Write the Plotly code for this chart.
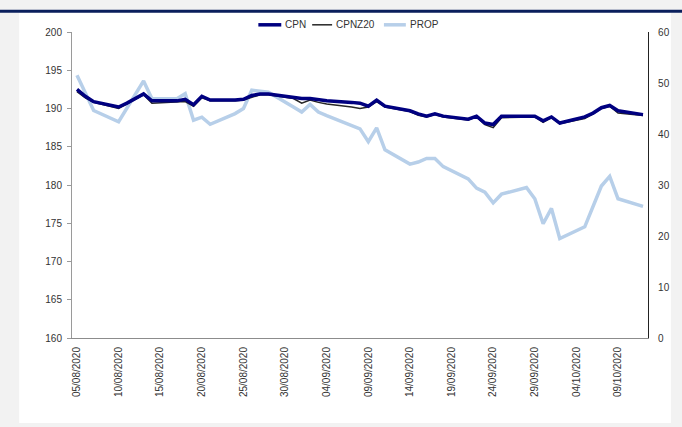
import plotly.graph_objects as go

dates = [
    "2020-08-05", "2020-08-06", "2020-08-07", "2020-08-10", "2020-08-11", "2020-08-12",
    "2020-08-13", "2020-08-14", "2020-08-17", "2020-08-18", "2020-08-19", "2020-08-20",
    "2020-08-21", "2020-08-24", "2020-08-25", "2020-08-26", "2020-08-27", "2020-08-28",
    "2020-08-31", "2020-09-01", "2020-09-02", "2020-09-03", "2020-09-04", "2020-09-07",
    "2020-09-08", "2020-09-09", "2020-09-10", "2020-09-11", "2020-09-14", "2020-09-15",
    "2020-09-16", "2020-09-17", "2020-09-18", "2020-09-21", "2020-09-22", "2020-09-23",
    "2020-09-24", "2020-09-25", "2020-09-28", "2020-09-29", "2020-09-30", "2020-10-01",
    "2020-10-02", "2020-10-05", "2020-10-06", "2020-10-07", "2020-10-08", "2020-10-09",
    "2020-10-12",
]

cpn = [
    192.5, 191.6, 190.9, 190.2, 190.7, 191.3,
    191.9, 191.0, 191.0, 191.2, 190.5, 191.6,
    191.1, 191.1, 191.2, 191.7, 191.9, 191.9,
    191.5, 191.3, 191.3, 191.1, 191.0, 190.8,
    190.7, 190.3, 191.1, 190.3, 189.7, 189.3,
    189.0, 189.3, 189.0, 188.6, 189.0, 188.1,
    187.9, 189.0, 189.0, 189.0, 188.4, 188.9,
    188.1, 188.9, 189.4, 190.1, 190.4, 189.7,
    189.2,
]

cpnz20 = [
    192.2, 191.4, 190.8, 190.0, 190.6, 191.2,
    191.8, 190.7, 190.8, 190.9, 190.3, 191.4,
    191.0, 191.0, 191.1, 191.5, 191.8, 191.8,
    191.3, 190.7, 191.1, 190.8, 190.6, 190.2,
    190.0, 190.2, 190.9, 190.2, 189.6, 189.1,
    188.9, 189.2, 188.9, 188.5, 188.9, 187.9,
    187.5, 188.8, 188.9, 188.9, 188.2, 188.8,
    188.0, 188.7, 189.3, 190.0, 190.3, 189.4,
    189.1,
]

prop = [
    51.5, 48.0, 44.6, 42.4, 45.0, 47.7,
    50.4, 46.9, 46.9, 47.9, 42.7, 43.3,
    41.9, 44.0, 45.0, 48.6, 48.4, 48.2,
    45.3, 44.3, 45.8, 44.3, 43.6, 41.7,
    41.0, 38.5, 41.2, 36.9, 34.1, 34.5,
    35.2, 35.2, 33.6, 31.2, 29.4, 28.6,
    26.5, 28.2, 29.5, 27.3, 22.4, 25.4,
    19.5, 21.8, 25.8, 29.8, 31.7, 27.3,
    25.8,
]

tick_dates = [
    "2020-08-05", "2020-08-10", "2020-08-15", "2020-08-20", "2020-08-25", "2020-08-30",
    "2020-09-04", "2020-09-09", "2020-09-14", "2020-09-19", "2020-09-24", "2020-09-29",
    "2020-10-04", "2020-10-09",
]
tick_text = [
    "05/08/2020", "10/08/2020", "15/08/2020", "20/08/2020", "25/08/2020", "30/08/2020",
    "04/09/2020", "09/09/2020", "14/09/2020", "19/09/2020", "24/09/2020", "29/09/2020",
    "04/10/2020", "09/10/2020",
]

series_names = ["CPN", "CPNZ20", "PROP"]

FONT = "Liberation Sans, Arial, sans-serif"
TXT = "#333333"
C_CPN, C_Z20, C_PROP = "#000080", "#262626", "#b7cfe9"
W_CPN, W_Z20, W_PROP = 3.5, 1.5, 3.5

fig = go.Figure()
fig.add_trace(go.Scatter(x=dates, y=prop, name=series_names[2], mode="lines",
                         line=dict(color=C_PROP, width=W_PROP), yaxis="y"))
fig.add_trace(go.Scatter(x=dates, y=cpnz20, name=series_names[1], mode="lines",
                         line=dict(color=C_Z20, width=W_Z20), yaxis="y2"))
fig.add_trace(go.Scatter(x=dates, y=cpn, name=series_names[0], mode="lines",
                         line=dict(color=C_CPN, width=W_CPN), yaxis="y2"))

W, H = 682, 427
L, R, T, B = 72, 650, 31.7, 338
pw, ph = R - L, B - T


def px(x):
    return (x - L) / pw


def py(y):
    return (B - y) / ph


shapes = [
    dict(type="rect", xref="paper", yref="paper", x0=px(19), x1=px(673), y0=py(423), y1=py(12.5),
         fillcolor="white", line=dict(width=0), layer="below"),
    dict(type="rect", xref="paper", yref="paper", x0=px(-5), x1=px(690), y0=py(12.5), y1=py(9.5),
         fillcolor="#0a1f5c", line=dict(width=0), layer="below"),
]

# manual legend (sample line + text)
leg_y = 24.5
leg_items = [
    (series_names[0], C_CPN, W_CPN, 259, 282, 284),
    (series_names[1], C_Z20, W_Z20, 313, 333, 335),
    (series_names[2], C_PROP, W_PROP, 385, 407, 409),
]
annotations = []
for name, col, wd, sx0, sx1, tx in leg_items:
    shapes.append(dict(type="line", xref="paper", yref="paper", x0=px(sx0), x1=px(sx1),
                       y0=py(leg_y), y1=py(leg_y), line=dict(color=col, width=wd)))
    annotations.append(dict(xref="paper", yref="paper", x=px(tx), y=py(leg_y), text=name,
                            showarrow=False, xanchor="left", yanchor="middle",
                            font=dict(family=FONT, size=10, color=TXT)))

fig.update_layout(
    width=W, height=H,
    margin=dict(l=L, r=W - R, t=T, b=H - B, pad=0),
    paper_bgcolor="#f2f2f2",
    plot_bgcolor="rgba(0,0,0,0)",
    font=dict(family=FONT, size=10, color=TXT),
    shapes=shapes,
    annotations=annotations,
    showlegend=False,
    xaxis=dict(
        type="date",
        range=["2020-08-04 09:36", "2020-10-12 14:24"],
        tickmode="array", tickvals=tick_dates, ticktext=tick_text,
        tickangle=-90, showgrid=False, zeroline=False,
        showline=True, linecolor="#8c8c8c", linewidth=1,
        ticks="", ticklabelstandoff=4,
        tickfont=dict(size=10, color=TXT),
    ),
    yaxis=dict(
        range=[0, 60], dtick=10, side="right",
        showgrid=False, zeroline=False,
        showline=True, linecolor="#222222", linewidth=1.2,
        ticks="", ticklabelstandoff=7,
        tickfont=dict(size=10, color=TXT),
    ),
    yaxis2=dict(
        range=[160, 200], dtick=5, side="left", overlaying="y",
        showgrid=False, zeroline=False,
        showline=True, linecolor="#9a9a9a", linewidth=1,
        ticks="outside", ticklen=4, tickcolor="#9a9a9a",
        ticklabelstandoff=3,
        tickfont=dict(size=10, color=TXT),
    ),
)

fig.write_html(
    "out.html",
    config={"displayModeBar": False},
    post_script="document.body.style.margin='0';document.body.style.overflow='hidden';",
)
